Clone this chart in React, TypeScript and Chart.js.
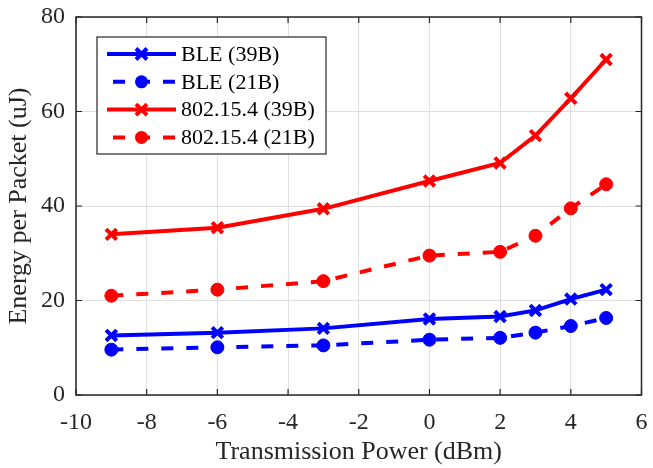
import React, { useEffect, useRef } from "react";
import { Chart, registerables } from "chart.js";

Chart.register(...registerables);

// ---- data ----
const powerDbm = [-9, -6, -3, 0, 2, 3, 4, 5];
const ble39B = [12.6, 13.2, 14.1, 16.1, 16.6, 17.9, 20.3, 22.3];
const ble21B = [9.6, 10.1, 10.5, 11.7, 12.1, 13.2, 14.6, 16.3];
const ieee39B = [34.0, 35.4, 39.4, 45.3, 49.1, 54.9, 62.8, 71.0];
const ieee21B = [21.0, 22.3, 24.1, 29.5, 30.3, 33.7, 39.5, 44.6];
const seriesLabels = ["BLE (39B)", "BLE (21B)", "802.15.4 (39B)", "802.15.4 (21B)"];
const xTickValues = [-10, -8, -6, -4, -2, 0, 2, 4, 6];
const yTickValues = [0, 20, 40, 60, 80];
const xTitle = "Transmission Power (dBm)";
const yTitle = "Energy per Packet (uJ)";

const FONT = '"Liberation Serif", "Times New Roman", serif';
const AXIS_COLOR = "#262626";
const GRID_COLOR = "#dfdfdf";
const BLUE = "#0000ff";
const RED = "#ff0000";
const DASH = [12, 13];
const LINE_W = 4;

const toPoints = (ys: number[]) => powerDbm.map((x, i) => ({ x, y: ys[i] }));

function drawMarker(ctx: CanvasRenderingContext2D, style: string, x: number, y: number, color: string) {
  ctx.save();
  ctx.setLineDash([]);
  if (style === "circle") {
    ctx.fillStyle = color;
    ctx.beginPath();
    ctx.arc(x, y, 6.5, 0, Math.PI * 2);
    ctx.fill();
  } else {
    ctx.strokeStyle = color;
    ctx.lineWidth = 4;
    const d = 5.5;
    ctx.beginPath();
    ctx.moveTo(x - d, y - d);
    ctx.lineTo(x + d, y + d);
    ctx.moveTo(x + d, y - d);
    ctx.lineTo(x - d, y + d);
    ctx.stroke();
  }
  ctx.restore();
}

const frameAndLegendPlugin = {
  id: "frameAndLegend",
  afterDraw(chart: any) {
    const { ctx, chartArea: a, scales } = chart;
    ctx.save();
    // inward ticks
    ctx.strokeStyle = AXIS_COLOR;
    ctx.lineWidth = 1.2;
    ctx.beginPath();
    const tl = 6;
    for (const v of xTickValues) {
      const px = scales.x.getPixelForValue(v);
      ctx.moveTo(px, a.bottom);
      ctx.lineTo(px, a.bottom - tl);
      ctx.moveTo(px, a.top);
      ctx.lineTo(px, a.top + tl);
    }
    for (const v of yTickValues) {
      const py = scales.y.getPixelForValue(v);
      ctx.moveTo(a.left, py);
      ctx.lineTo(a.left + tl, py);
      ctx.moveTo(a.right, py);
      ctx.lineTo(a.right - tl, py);
    }
    ctx.stroke();
    // box
    ctx.lineWidth = 1.5;
    ctx.strokeRect(a.left, a.top, a.right - a.left, a.bottom - a.top);

    // legend
    const lx = a.left + 21;
    const ly = a.top + 20;
    const lw = 229;
    const lh = 117;
    ctx.fillStyle = "#ffffff";
    ctx.fillRect(lx, ly, lw, lh);
    ctx.lineWidth = 1.2;
    ctx.strokeStyle = AXIS_COLOR;
    ctx.strokeRect(lx, ly, lw, lh);
    const rowH = 27.8;
    ctx.font = `22px ${FONT}`;
    ctx.textBaseline = "middle";
    ctx.textAlign = "left";
    chart.data.datasets.forEach((ds: any, i: number) => {
      const cy = ly + 17 + i * rowH;
      const x0 = lx + 10;
      const x1 = lx + 79;
      ctx.save();
      ctx.strokeStyle = ds.borderColor;
      ctx.lineWidth = LINE_W;
      ctx.lineCap = "butt";
      if (ds.borderDash && ds.borderDash.length) {
        ctx.setLineDash(ds.borderDash);
        ctx.beginPath();
        ctx.moveTo(x0 + 6, cy);
        ctx.lineTo(x1, cy);
        ctx.stroke();
      } else {
        ctx.beginPath();
        ctx.moveTo(x0, cy);
        ctx.lineTo(x1, cy);
        ctx.stroke();
      }
      ctx.restore();
      drawMarker(ctx, ds.pointStyle, (x0 + x1) / 2, cy, ds.borderColor);
      ctx.fillStyle = "#000000";
      ctx.fillText(ds.label, lx + 84, cy + 1);
    });
    ctx.restore();
  },
};

export default function App() {
  const canvasRef = useRef<HTMLCanvasElement | null>(null);

  useEffect(() => {
    if (!canvasRef.current) return;
    const mk = (label: string, ys: number[], color: string, dashed: boolean) => ({
      label,
      data: toPoints(ys),
      borderColor: color,
      backgroundColor: color,
      borderWidth: LINE_W,
      borderDash: dashed ? DASH : [],
      pointStyle: dashed ? "circle" : "crossRot",
      pointRadius: dashed ? 6.5 : 7.5,
      pointBorderWidth: dashed ? 1 : 4,
      pointBackgroundColor: color,
      pointBorderColor: color,
      tension: 0,
      fill: false,
    });

    const chart = new Chart(canvasRef.current, {
      type: "line",
      data: {
        datasets: [
          mk(seriesLabels[0], ble39B, BLUE, false),
          mk(seriesLabels[1], ble21B, BLUE, true),
          mk(seriesLabels[2], ieee39B, RED, false),
          mk(seriesLabels[3], ieee21B, RED, true),
        ] as any,
      },
      options: {
        animation: false,
        responsive: false,
        events: [],
        layout: { padding: { left: 0, right: 10, top: 17, bottom: 0 } },
        plugins: {
          legend: { display: false },
          tooltip: { enabled: false },
        },
        scales: {
          x: {
            type: "linear",
            min: -10,
            max: 6,
            afterBuildTicks: (scale: any) => {
              scale.ticks = xTickValues.map((v) => ({ value: v }));
            },
            afterFit: (scale: any) => {
              scale.height = 73;
              scale.paddingLeft = 0;
              scale.paddingRight = 0;
            },
            ticks: {
              font: { family: FONT, size: 24 },
              color: AXIS_COLOR,
              padding: 13,
              maxRotation: 0,
              autoSkip: false,
              callback: (v: any) => String(v),
            },
            grid: { color: GRID_COLOR, lineWidth: 1, drawTicks: false },
            border: { display: false },
            title: {
              display: true,
              text: xTitle,
              font: { family: FONT, size: 26 },
              color: AXIS_COLOR,
              padding: { top: 0, bottom: 0 },
            },
          },
          y: {
            type: "linear",
            min: 0,
            max: 80,
            afterBuildTicks: (scale: any) => {
              scale.ticks = yTickValues.map((v) => ({ value: v }));
            },
            afterFit: (scale: any) => {
              scale.width = 76;
              scale.paddingTop = 0;
              scale.paddingBottom = 0;
            },
            ticks: {
              font: { family: FONT, size: 24 },
              color: AXIS_COLOR,
              padding: 11,
              autoSkip: false,
              callback: (v: any) => String(v),
            },
            grid: { color: GRID_COLOR, lineWidth: 1, drawTicks: false },
            border: { display: false },
            title: {
              display: true,
              text: yTitle,
              font: { family: FONT, size: 26 },
              color: AXIS_COLOR,
              padding: { top: 4, bottom: 0 },
            },
          },
        },
      } as any,
      plugins: [frameAndLegendPlugin],
    });
    return () => chart.destroy();
  }, []);

  return (
    <div style={{ position: "absolute", left: 0, top: 0, width: 653, height: 468, background: "#fff" }}>
      <canvas ref={canvasRef} width={653} height={468} />
    </div>
  );
}
